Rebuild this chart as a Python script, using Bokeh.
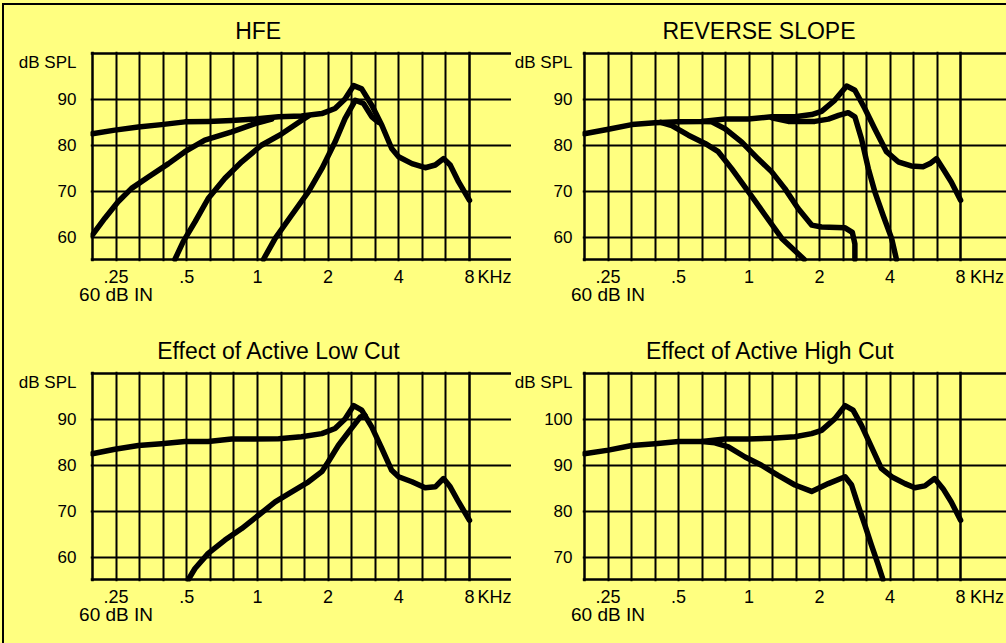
from bokeh.plotting import figure
from bokeh.layouts import gridplot
from bokeh.models import (Range1d, FixedTicker, CustomJSTickFormatter, Title, LogAxis, Grid)
from bokeh.embed import file_html
from bokeh.resources import INLINE

BG = "#ffff80"
FONT = "Liberation Sans"

# ---------------- axes / ticks ----------------
x_ticks = [0.25, 0.5, 1, 2, 4, 8]
x_tick_labels = [".25", ".5", "1", "2", "4", "8"]
x_unit_label = "KHz"
x_note_tick = [0.25]
x_note_label = ["60 dB IN"]
y_ticks_a = [60, 70, 80, 90]
y_ticks_b = [70, 80, 90, 100]
y_range_a = (55.1, 100.0)
y_range_b = (65.1, 110.0)
y_unit_label = "dB SPL"
titles = ["HFE", "REVERSE SLOPE", "Effect of Active Low Cut", "Effect of Active High Cut"]

# ---------------- data (kHz, dB SPL) ----------------
hfe_full_f = [0.198, 0.247, 0.311, 0.390, 0.491, 0.617, 0.777, 0.977, 1.23, 1.54, 1.88, 2.14, 2.36,
              2.57, 2.78, 3.07, 3.39, 3.73, 3.99, 4.55, 5.18, 5.72, 6.20, 6.62, 7.19, 8.0]
hfe_full_db = [82.5, 83.3, 84.0, 84.5, 85.1, 85.2, 85.4, 85.7, 86.2, 86.4, 86.9, 88.0, 90.1,
               93.0, 92.3, 88.7, 84.3, 79.3, 77.5, 76.0, 75.1, 75.7, 77.1, 75.7, 72.0, 68.0]
hfe_b_f = [0.198, 0.224, 0.255, 0.291, 0.343, 0.418, 0.491, 0.597, 0.777, 0.977, 1.15]
hfe_b_db = [60.4, 64.1, 67.7, 70.6, 73.1, 76.0, 78.6, 81.1, 82.9, 84.7, 85.7]
hfe_c_f = [0.445, 0.483, 0.542, 0.617, 0.727, 0.857, 1.04, 1.27, 1.54, 1.65]
hfe_c_db = [55.1, 59.0, 63.3, 68.4, 72.8, 76.4, 80.0, 82.5, 85.4, 86.4]
hfe_d_f = [1.06, 1.19, 1.40, 1.65, 1.88, 2.14, 2.36, 2.61, 2.83, 3.07, 3.28]
hfe_d_db = [55.1, 59.7, 64.8, 69.9, 74.9, 80.7, 85.8, 89.8, 89.1, 86.2, 85.0]

rev_full_f = [0.198, 0.251, 0.316, 0.397, 0.5, 0.629, 0.790, 0.993, 1.25, 1.57, 1.85, 2.04, 2.32,
              2.61, 2.83, 3.12, 3.44, 3.86, 4.33, 4.92, 5.53, 5.92, 6.31, 6.73, 7.30, 8.0]
rev_full_db = [82.5, 83.5, 84.5, 84.9, 85.1, 85.2, 85.7, 85.7, 86.2, 86.2, 86.7, 87.4, 89.8,
               92.9, 92.0, 88.0, 83.6, 78.6, 76.4, 75.5, 75.3, 76.0, 77.1, 74.9, 72.0, 68.0]
rev_e_f = [1.25, 1.47, 1.91, 2.18, 2.41, 2.65, 2.83, 3.02, 3.23, 3.44, 3.73, 4.06, 4.26]
rev_e_db = [86.0, 85.2, 85.2, 85.7, 86.5, 87.1, 86.2, 81.4, 74.9, 69.9, 64.8, 59.7, 55.1]
rev_f_f = [0.629, 0.693, 0.790, 0.931, 1.09, 1.25, 1.42, 1.62, 1.85, 2.04, 2.57, 2.76, 2.83, 2.83]
rev_f_db = [85.2, 85.1, 83.6, 80.7, 77.1, 74.2, 70.6, 66.2, 62.6, 62.2, 62.0, 61.0, 58.5, 55.1]
rev_g_f = [0.42, 0.468, 0.551, 0.649, 0.739, 0.843, 0.993, 1.17, 1.38, 1.72]
rev_g_db = [85.0, 84.3, 82.2, 80.4, 78.6, 74.9, 69.9, 64.8, 59.7, 55.1]

low_full_f = [0.198, 0.247, 0.311, 0.390, 0.491, 0.617, 0.777, 0.977, 1.23, 1.54, 1.88, 2.14, 2.36,
              2.57, 2.78, 3.07, 3.39, 3.73, 3.99, 4.55, 5.18, 5.72, 6.20, 6.62, 7.19, 8.0]
low_full_db = [82.5, 83.5, 84.3, 84.7, 85.2, 85.2, 85.7, 85.7, 85.8, 86.2, 86.9, 88.0, 90.1,
               93.0, 92.0, 88.3, 83.6, 78.9, 77.5, 76.4, 75.1, 75.3, 77.1, 75.3, 72.0, 68.0]
low_cut_f = [0.508, 0.542, 0.617, 0.727, 0.857, 1.01, 1.19, 1.40, 1.65, 1.88, 2.00, 2.21, 2.44, 2.74, 2.87]
low_cut_db = [55.1, 57.5, 60.8, 63.7, 66.2, 69.1, 72.0, 74.2, 76.4, 78.6, 80.7, 84.3, 87.2, 90.5, 90.9]

high_full_f = [0.198, 0.251, 0.316, 0.397, 0.5, 0.629, 0.790, 0.993, 1.25, 1.57, 1.85, 2.04, 2.32,
               2.57, 2.78, 3.02, 3.33, 3.67, 4.06, 4.63, 5.10, 5.63, 6.20, 6.73, 7.30, 8.0]
high_full_db = [92.5, 93.3, 94.3, 94.7, 95.2, 95.2, 95.7, 95.7, 95.9, 96.2, 96.9, 97.6, 100.1,
                103.0, 102.0, 98.7, 94.0, 89.3, 87.5, 86.0, 85.1, 85.5, 87.1, 84.9, 82.0, 78.0]
high_cut_f = [0.629, 0.715, 0.816, 0.962, 1.13, 1.33, 1.57, 1.85, 2.18, 2.57, 2.74, 2.92, 3.12, 3.33, 3.56, 3.73]
high_cut_db = [95.2, 94.9, 94.0, 91.8, 90.0, 87.8, 85.7, 84.3, 86.0, 87.5, 85.7, 81.3, 77.0, 72.6, 68.3, 65.1]

# ---------------- geometry (pixels) ----------------
X_MIN = 0.25 * 2 ** (-1 / 3)      # left edge of the chart box (one 1/3 octave below .25)
X_MAX = 8.0                       # right edge of the chart box
grid_freqs = [0.25 * 2 ** ((k - 1) / 3) for k in range(1, 16)]
BOX_W, BOX_H = 377, 206           # chart box size in px
PAD = 2                           # frame padding so the box edges are not clipped
PX_OCT = BOX_W / (16 / 3)

LOOKUP = ("const i = tvals.findIndex(t => Math.abs(t - tick) < 1e-6 * Math.max(1, Math.abs(t)));"
          " return i < 0 ? '' : tlabels[i];")


def style_axis(ax, size, standoff):
    ax.axis_line_color = None
    ax.major_tick_line_color = None
    ax.minor_tick_line_color = None
    ax.major_tick_out = 0
    ax.major_tick_in = 0
    ax.minor_tick_out = 0
    ax.minor_tick_in = 0
    ax.major_label_text_font = FONT
    ax.major_label_text_font_size = size
    ax.major_label_text_color = "black"
    ax.major_label_standoff = standoff


def make_panel(title, title_dx, yticks, yrange, curves, width, height,
               b_left, b_top, b_bottom, y_standoff, khz_dx):
    ybot, ytop = yrange
    px_db = BOX_H / (ytop - ybot)
    ext_right = width - b_left - PAD - BOX_W        # frame extends right to hold the unit label
    x_lo = X_MIN * 2 ** (-PAD / PX_OCT)
    x_hi = X_MAX * 2 ** (ext_right / PX_OCT)
    p = figure(width=width, height=height, x_axis_type="log",
               x_range=Range1d(x_lo, x_hi),
               y_range=Range1d(ybot - PAD / px_db, ytop + PAD / px_db),
               output_backend="svg", toolbar_location=None,
               min_border_left=b_left, min_border_right=0,
               min_border_top=b_top, min_border_bottom=b_bottom,
               background_fill_color=BG, border_fill_color=BG)
    p.title.visible = False
    p.outline_line_color = None

    # grid (1/3-octave verticals, 10 dB horizontals), limited to the chart box
    p.xgrid.ticker = FixedTicker(ticks=grid_freqs)
    p.ygrid.ticker = FixedTicker(ticks=yticks)
    p.xgrid.bounds = (ybot, ytop)
    p.ygrid.bounds = (X_MIN, X_MAX)
    for g in (p.xgrid[0], p.ygrid[0]):
        g.grid_line_color = "black"
        g.grid_line_width = 2
        g.grid_line_alpha = 1.0
    # chart box edges
    p.add_layout(Grid(dimension=0, ticker=FixedTicker(ticks=[X_MIN, X_MAX]), bounds=(ybot, ytop),
                      grid_line_color="black", grid_line_width=2.5))
    p.add_layout(Grid(dimension=1, ticker=FixedTicker(ticks=[ybot, ytop]), bounds=(X_MIN, X_MAX),
                      grid_line_color="black", grid_line_width=2.5))

    # frequency axis (+ unit label placed right of the box)
    khz_tick = X_MAX * 2 ** (khz_dx / PX_OCT)
    ticks = x_ticks + [khz_tick]
    labels = x_tick_labels + [x_unit_label]
    p.xaxis.ticker = FixedTicker(ticks=ticks)
    p.xaxis.formatter = CustomJSTickFormatter(args=dict(tvals=ticks, tlabels=labels), code=LOOKUP)
    style_axis(p.xaxis[0], "18px", 5)

    # second row under the frequency axis: "60 dB IN"
    note_ax = LogAxis(ticker=FixedTicker(ticks=x_note_tick),
                      formatter=CustomJSTickFormatter(
                          args=dict(tvals=x_note_tick, tlabels=x_note_label), code=LOOKUP))
    style_axis(note_ax, "19px", -6)
    p.add_layout(note_ax, "below")

    # level axis (with the "dB SPL" unit on top)
    unit_tick = ytop - 1.9
    yt = yticks + [unit_tick]
    yl = [str(v) for v in yticks] + [y_unit_label]
    p.yaxis.ticker = FixedTicker(ticks=yt)
    p.yaxis.formatter = CustomJSTickFormatter(args=dict(tvals=yt, tlabels=yl), code=LOOKUP)
    style_axis(p.yaxis[0], "17px", y_standoff)

    # curves
    for fx, dy in curves:
        p.line(fx, dy, line_color="black", line_width=5.5,
               line_join="round", line_cap="round")

    p.add_layout(Title(text=title, align="left", offset=title_dx + PAD,
                       text_font=FONT, text_font_size="23px", text_font_style="normal",
                       text_color="black", standoff=15), "above")
    return p


LW, RW = 511, 495
p1 = make_panel(titles[0], 142.7, y_ticks_a, y_range_a,
                [(hfe_full_f, hfe_full_db), (hfe_b_f, hfe_b_db),
                 (hfe_c_f, hfe_c_db), (hfe_d_f, hfe_d_db)],
                LW, 320, 90, 51, 59, 14, 25)
p2 = make_panel(titles[1], 78.0, y_ticks_a, y_range_a,
                [(rev_full_f, rev_full_db), (rev_e_f, rev_e_db),
                 (rev_f_f, rev_f_db), (rev_g_f, rev_g_db)],
                RW, 320, 70, 51, 59, 10, 26.5)
p3 = make_panel(titles[2], 64.7, y_ticks_a, y_range_a,
                [(low_full_f, low_full_db), (low_cut_f, low_cut_db)],
                LW, 323, 90, 51, 62, 14, 25)
p4 = make_panel(titles[3], 61.6, y_ticks_b, y_range_b,
                [(high_full_f, high_full_db), (high_cut_f, high_cut_db)],
                RW, 323, 70, 51, 62, 10, 26.5)

grid = gridplot([[p1, p2], [p3, p4]], toolbar_location=None)

try:
    from bokeh.models import GlobalInlineStyleSheet
    grid.stylesheets = [GlobalInlineStyleSheet(css=(
        "html, body { background: #ffff80; margin: 0; padding: 0; overflow: hidden; }"
        "body::before { content: ''; position: fixed; left: 2px; top: 3px; z-index: 100;"
        " width: 3000px; height: 3000px; border-left: 2px solid #000;"
        " border-top: 2px solid #000; pointer-events: none; }"))]
except Exception:
    pass

open("out.html", "w").write(file_html(grid, INLINE))
